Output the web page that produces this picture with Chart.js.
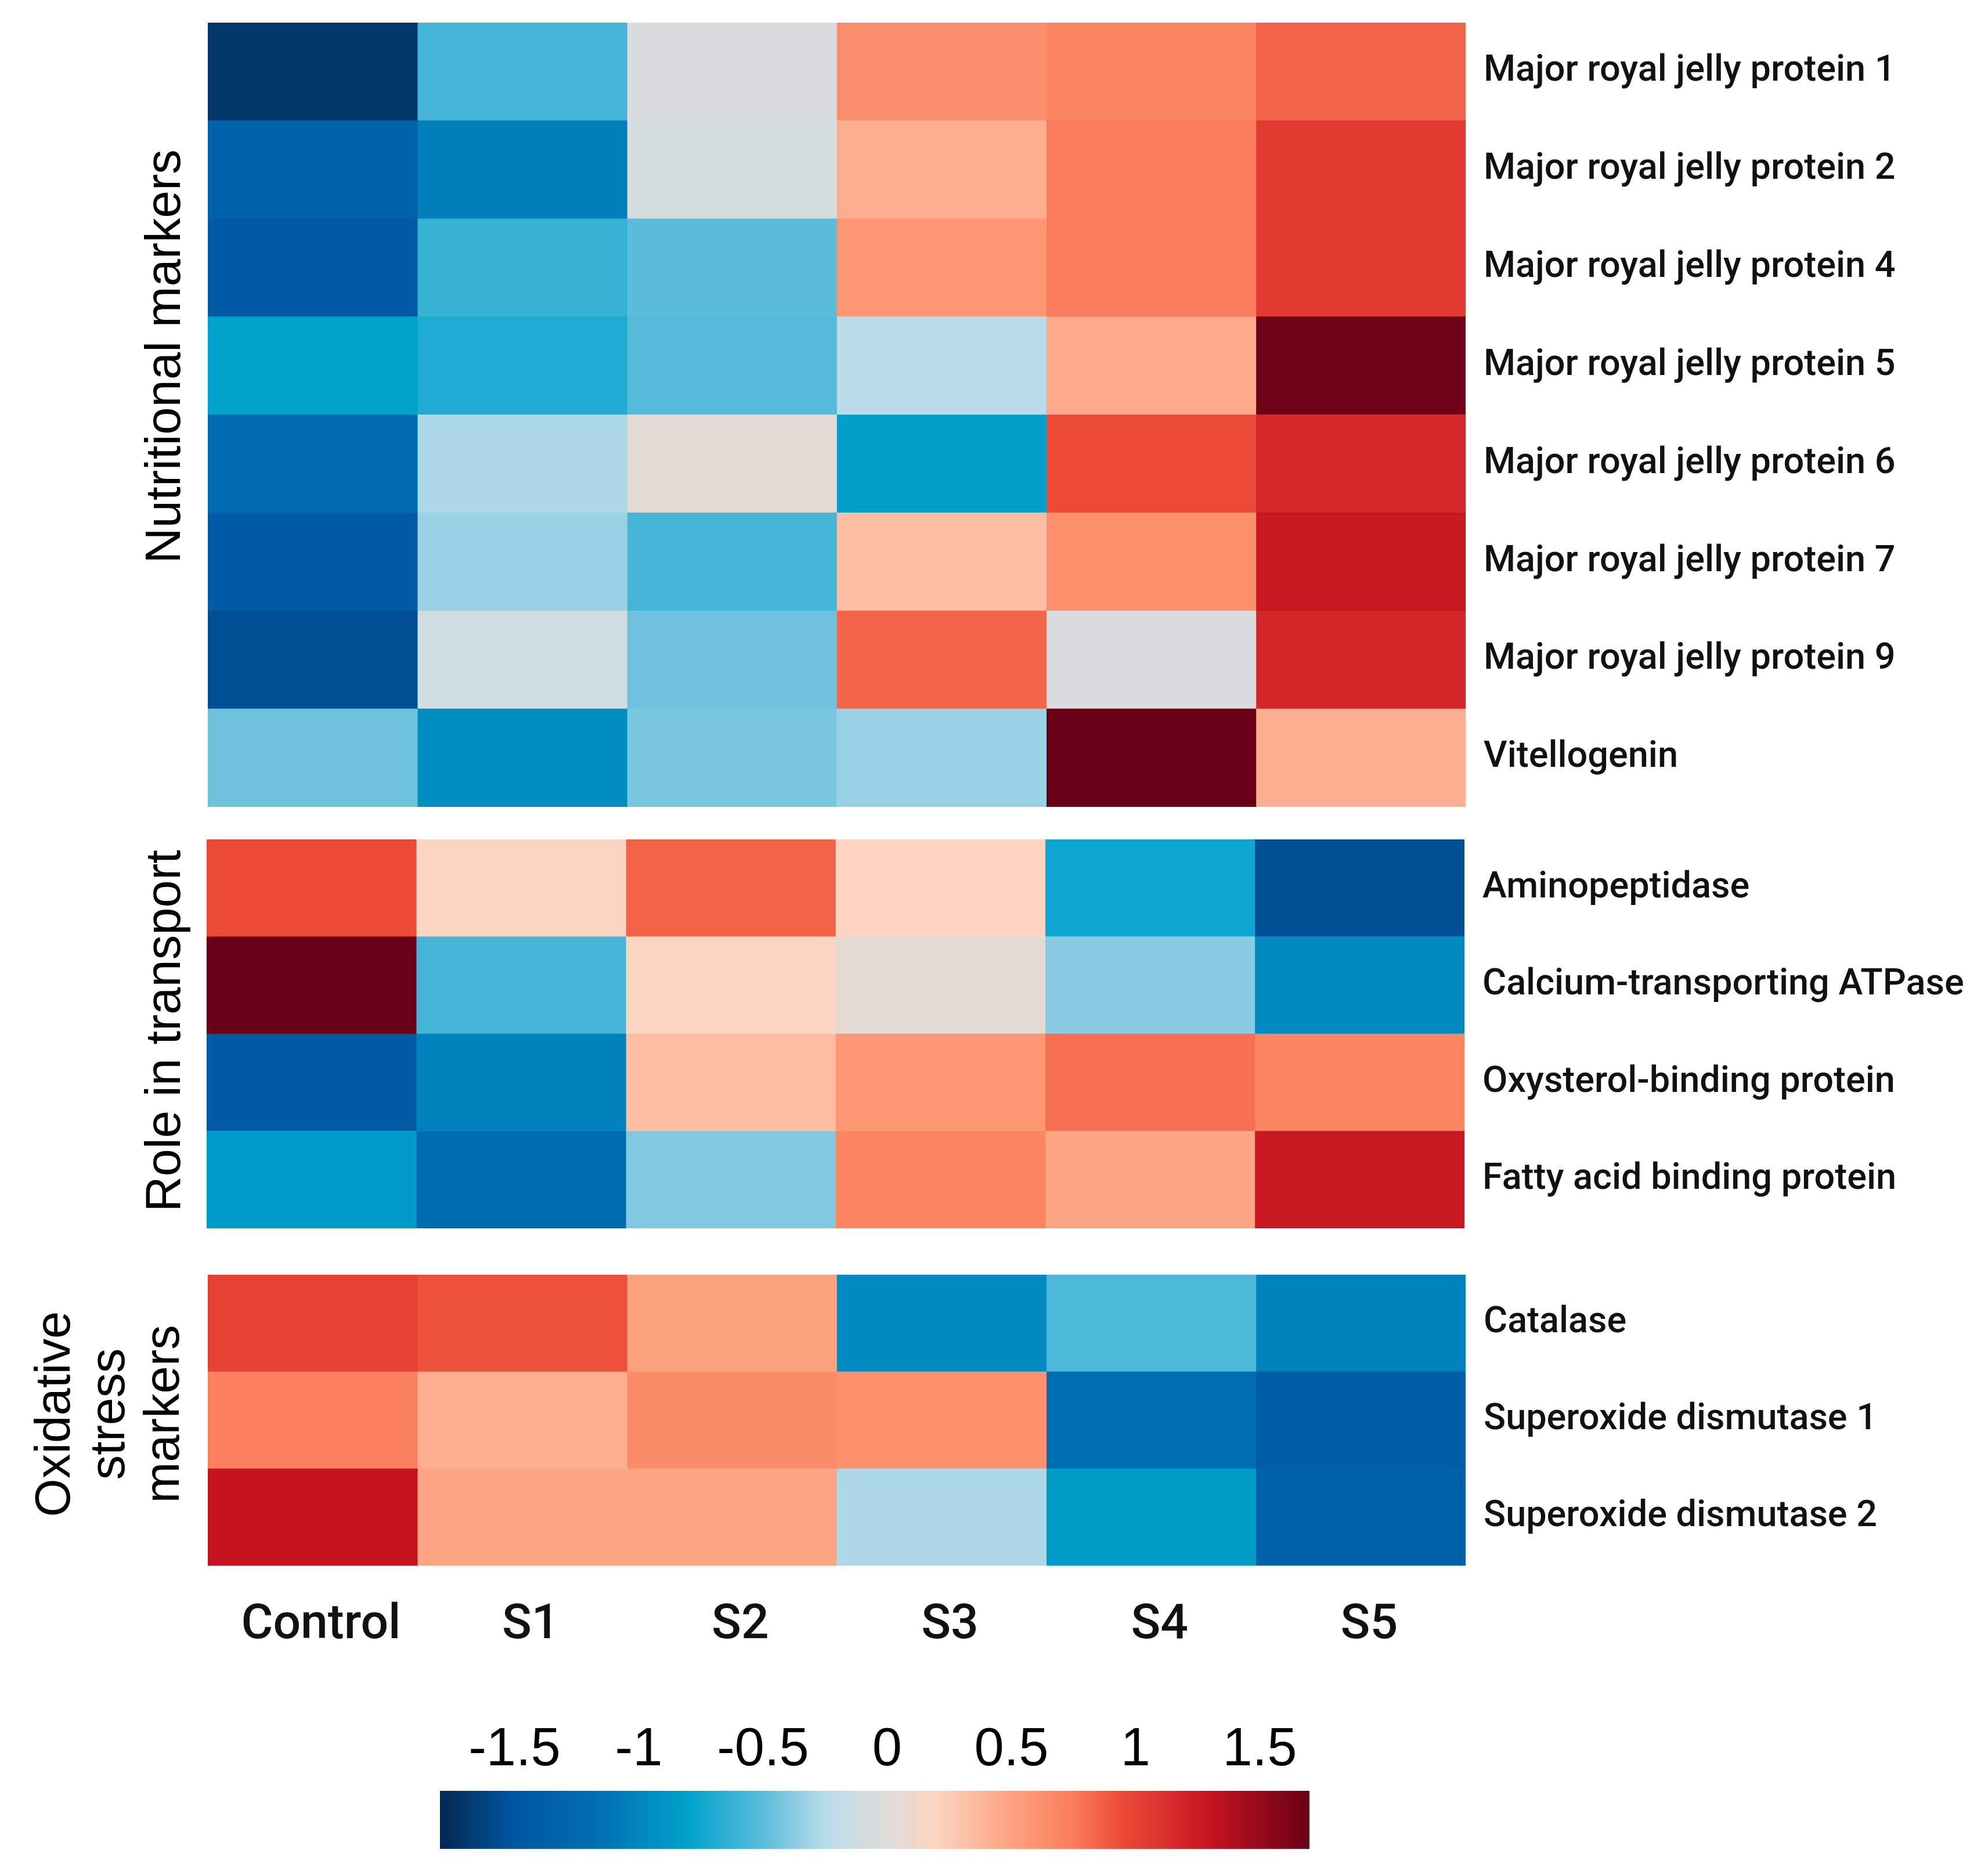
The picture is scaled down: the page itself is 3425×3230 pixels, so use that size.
<!DOCTYPE html>
<html>
<head>
<meta charset="utf-8">
<script src="https://cdn.jsdelivr.net/npm/chart.js@4.4.1/dist/chart.umd.min.js"></script>
<style>
  body { margin: 0; background: #fff; }
  #page { position: relative; width: 3425px; height: 3230px; background: #fff; overflow: hidden; }
  canvas { position: absolute; }
  .group {
    position: absolute;
    font-family: "Liberation Sans", Arial, sans-serif;
    font-size: 85px;
    line-height: 94px;
    color: #000;
    text-align: center;
    white-space: nowrap;
    transform: translate(-50%, -50%) rotate(-90deg);
  }
</style>
</head>
<body>
<div id="page">
  <div class="group" style="left:281px; top:614px;">Nutritional markers</div>
  <div class="group" style="left:281px; top:1776px;">Role in transport</div>
  <div class="group" style="left:185px; top:2436px;">Oxidative<br>stress<br>markers</div>

  <canvas id="nutri" width="3063" height="1351" style="left:358px; top:39px;"></canvas>
  <canvas id="transport" width="3063" height="670" style="left:356px; top:1446px;"></canvas>
  <canvas id="oxid" width="3063" height="661" style="left:358px; top:2196px;"></canvas>
  <canvas id="scale" width="1498" height="249" style="left:758px; top:2936px;"></canvas>
</div>

<script>
// columns
const samples = ['Control', 'S1', 'S2', 'S3', 'S4', 'S5']

// z-scores, one row per protein, one column per sample
const nutritionalLabels = [
  'Major royal jelly protein 1',
  'Major royal jelly protein 2',
  'Major royal jelly protein 4',
  'Major royal jelly protein 5',
  'Major royal jelly protein 6',
  'Major royal jelly protein 7',
  'Major royal jelly protein 9',
  'Vitellogenin'
]
const nutritionalValues = [
  [-1.70, -0.57, -0.05,  0.63,  0.70,  0.85],
  [-1.35, -1.05, -0.08,  0.43,  0.75,  1.05],
  [-1.45, -0.62, -0.50,  0.58,  0.75,  1.05],
  [-0.80, -0.70, -0.52, -0.24,  0.45,  1.68],
  [-1.22, -0.28,  0.03, -0.82,  0.95,  1.17],
  [-1.45, -0.33, -0.57,  0.33,  0.62,  1.27],
  [-1.55, -0.12, -0.45,  0.84, -0.05,  1.18],
  [-0.45, -0.95, -0.42, -0.33,  1.70,  0.42]
]

const transportLabels = [
  'Aminopeptidase',
  'Calcium-transporting ATPase',
  'Oxysterol-binding protein',
  'Fatty acid binding protein'
]
const transportValues = [
  [ 0.95,  0.18,  0.85,  0.20, -0.76, -1.55],
  [ 1.70, -0.57,  0.18,  0.03, -0.38, -0.97],
  [-1.45, -1.03,  0.33,  0.58,  0.80,  0.70],
  [-0.86, -1.20, -0.40,  0.70,  0.48,  1.27]
]

const oxidativeLabels = [
  'Catalase',
  'Superoxide dismutase 1',
  'Superoxide dismutase 2'
]
const oxidativeValues = [
  [ 1.00,  0.92,  0.50, -0.97, -0.55, -1.03],
  [ 0.72,  0.43,  0.65,  0.62, -1.18, -1.40],
  [ 1.30,  0.48,  0.48, -0.28, -0.85, -1.38]
]

// colour bar
const scaleMin = -1.8
const scaleMax = 1.7
const colorbarTicks = [-1.5, -1, -0.5, 0, 0.5, 1, 1.5]

// colour map stops (value, colour)
const cmap = [
  [-1.80, '#05284f'],
  [-1.50, '#0057a3'],
  [-1.15, '#0071b3'],
  [-0.80, '#00a3cc'],
  [-0.50, '#5bbcdb'],
  [-0.25, '#b8dcea'],
  [-0.10, '#d3dde0'],
  [ 0.00, '#dfdbd8'],
  [ 0.20, '#fdd4c0'],
  [ 0.50, '#fca27f'],
  [ 0.75, '#fb7c5a'],
  [ 0.95, '#ea4a36'],
  [ 1.10, '#dc3330'],
  [ 1.30, '#c5131f'],
  [ 1.70, '#6a0018']
]

function hexToRgb(h){
  return [parseInt(h.slice(1,3),16), parseInt(h.slice(3,5),16), parseInt(h.slice(5,7),16)]
}

function colorFor(v){
  if (v <= cmap[0][0]) return cmap[0][1]
  for (let i = 1; i < cmap.length; i++){
    if (v <= cmap[i][0]){
      const t = (v - cmap[i-1][0]) / (cmap[i][0] - cmap[i-1][0])
      const a = hexToRgb(cmap[i-1][1]), b = hexToRgb(cmap[i][1])
      const c = a.map((x, k) => Math.round(x + (b[k] - x) * t))
      return 'rgb(' + c.join(',') + ')'
    }
  }
  return cmap[cmap.length-1][1]
}

// no extra room around the plot for the tick labels
function noPadding(scale){
  scale.paddingTop = 0
  scale.paddingBottom = 0
  scale.paddingLeft = 0
  scale.paddingRight = 0
}

const gridWidth = 2167

function heatmap(id, labels, values, withSamples){
  // one stacked dataset per sample column, every cell is one unit wide
  const datasets = samples.map((s, c) => ({
    label: s,
    data: labels.map(() => 1),
    backgroundColor: values.map(row => colorFor(row[c])),
    borderWidth: 0,
    barPercentage: 1,
    categoryPercentage: 1
  }))

  return new Chart(document.getElementById(id), {
    type: 'bar',
    data: {labels: labels, datasets: datasets},
    options: {
      indexAxis: 'y',
      responsive: false,
      animation: false,
      devicePixelRatio: 1,
      layout: {padding: 0},
      plugins: {legend: {display: false}, tooltip: {enabled: false}},
      scales: {
        x: {
          type: 'linear',
          stacked: true,
          min: 0,
          max: samples.length,
          display: withSamples,
          position: 'bottom',
          grid: {display: false, drawTicks: false},
          border: {display: false},
          // sample names sit a little right of the cell centres, as in the figure
          afterBuildTicks: scale => { scale.ticks = samples.map((s, i) => ({value: i + 0.54})) },
          afterFit: scale => {
            noPadding(scale)
            if (withSamples) scale.height = 160
          },
          ticks: {
            autoSkip: false,
            maxRotation: 0,
            padding: 54,
            color: '#111',
            font: {family: 'Roboto', size: 84, weight: '500'},
            callback: (v, i) => samples[i]
          }
        },
        y: {
          stacked: true,
          position: 'right',
          grid: {display: false, drawTicks: false},
          border: {display: false},
          afterFit: scale => {
            noPadding(scale)
            scale.width = 3063 - gridWidth
          },
          ticks: {color: '#111', font: {family: 'Roboto', size: 63, weight: '500'}, padding: 31}
        }
      }
    }
  })
}

heatmap('nutri', nutritionalLabels, nutritionalValues, false)
heatmap('transport', transportLabels, transportValues, false)
heatmap('oxid', oxidativeLabels, oxidativeValues, true)

// colour bar: one floating bar filled with the colour map gradient
new Chart(document.getElementById('scale'), {
  type: 'bar',
  data: {
    labels: [''],
    datasets: [{
      data: [[scaleMin, scaleMax]],
      borderWidth: 0,
      barPercentage: 1,
      categoryPercentage: 1,
      backgroundColor: ctx => {
        const area = ctx.chart.chartArea
        if (!area) return '#ccc'
        const g = ctx.chart.ctx.createLinearGradient(area.left, 0, area.right, 0)
        cmap.forEach(s => g.addColorStop((s[0] - scaleMin) / (scaleMax - scaleMin), s[1]))
        return g
      }
    }]
  },
  options: {
    indexAxis: 'y',
    responsive: false,
    animation: false,
    devicePixelRatio: 1,
    layout: {padding: 0},
    plugins: {legend: {display: false}, tooltip: {enabled: false}},
    scales: {
      x: {
        type: 'linear',
        min: scaleMin,
        max: scaleMax,
        position: 'top',
        grid: {display: false, drawTicks: false},
        border: {display: false},
        afterBuildTicks: scale => { scale.ticks = colorbarTicks.map(v => ({value: v})) },
        afterFit: scale => {
          noPadding(scale)
          scale.height = 149
        },
        ticks: {
          autoSkip: false,
          maxRotation: 0,
          padding: 14,
          color: '#000',
          font: {family: '"Liberation Sans Narrow", "Liberation Sans", Arial', size: 92},
          callback: v => String(v)
        }
      },
      y: {display: false, afterFit: noPadding}
    }
  }
})
</script>
</body>
</html>
